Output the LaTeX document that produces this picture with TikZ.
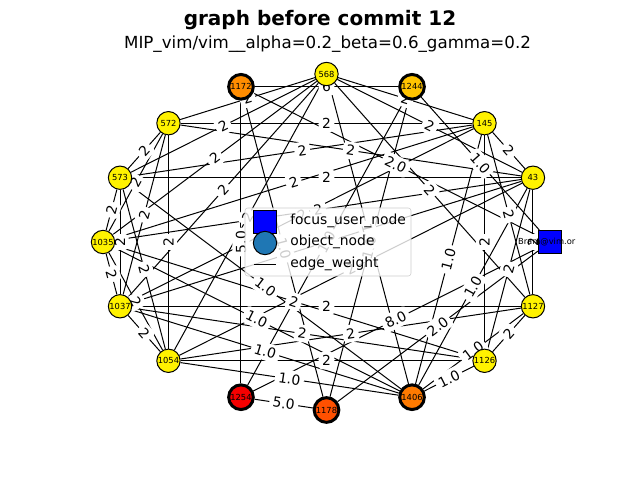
\documentclass[tikz,border=0pt]{standalone}
\usepackage{fontspec}
\setmainfont{DejaVu Sans}
\pgfdeclarelayer{edgelayer}
\pgfdeclarelayer{labellayer}
\pgfdeclarelayer{legendlayer}
\pgfsetlayers{edgelayer,labellayer,main,legendlayer}
\definecolor{mplblue}{HTML}{1F77B4}
\definecolor{c1172}{HTML}{FF8C00}
\definecolor{c1244}{HTML}{FFC400}
\definecolor{c1254}{HTML}{F50000}
\definecolor{c1178}{HTML}{FF5000}
\definecolor{c1406}{HTML}{FF7A00}
\newcommand\myedge[3]{%
 \begin{pgfonlayer}{edgelayer}\draw[edgeline] (#1) -- (#2);\end{pgfonlayer}%
 \begin{pgfonlayer}{labellayer}\path (#1) -- node[lbl]{#3} (#2);\end{pgfonlayer}}
\newcommand\px[1]{({326.5+223.5*cos(#1)},{238+168*sin(#1)})}
\begin{document}
\begin{tikzpicture}[x=0.75pt,y=0.75pt,
 usr/.style={circle,draw=black,line width=0.75pt,fill=yellow,minimum size=17.5pt,inner sep=0pt,font=\fontsize{6.25}{7}\selectfont},
 obj/.style={circle,draw=black,line width=2.25pt,minimum size=18.5pt,inner sep=0pt,font=\fontsize{6.25}{7}\selectfont},
 focus/.style={rectangle,draw=black,line width=0.6pt,fill=blue,minimum size=17.5pt,inner sep=0pt},
 lbl/.style={fill=white,inner sep=2.6pt,rounded corners=2.5pt,font=\fontsize{10.4}{12}\selectfont,sloped},
 edgeline/.style={draw=black,line width=0.75pt},
 legfont/.style={font=\fontsize{10.4}{12}\selectfont,anchor=west,inner sep=0pt}
]
\useasboundingbox (0,0) rectangle (640,480);

% nodes on circular layout
\node[focus] (bram) at \px{0} {};
\node[usr] (n43) at \px{22.5} {43};
\node[usr] (n145) at \px{45} {145};
\node[obj,fill=c1244] (n1244) at \px{67.5} {1244};
\node[usr] (n568) at \px{90} {568};
\node[obj,fill=c1172] (n1172) at \px{112.5} {1172};
\node[usr] (n572) at \px{135} {572};
\node[usr] (n573) at \px{157.5} {573};
\node[usr] (n1035) at \px{180} {1035};
\node[usr] (n1037) at \px{202.5} {1037};
\node[usr] (n1054) at \px{225} {1054};
\node[obj,fill=c1254] (n1254) at \px{247.5} {1254};
\node[obj,fill=c1178] (n1178) at \px{270} {1178};
\node[obj,fill=c1406] (n1406) at \px{292.5} {1406};
\node[usr] (n1126) at \px{315} {1126};
\node[usr] (n1127) at \px{337.5} {1127};
\node[font=\fontsize{6.25}{7}\selectfont,inner sep=0pt] (bramtxt) at ([xshift=-2.5pt]bram.center) {Bram@vim.or};

% user-user edges
\myedge{n573}{n568}{2}
\myedge{n572}{n145}{2}
\myedge{n568}{n43}{2}
\myedge{n568}{n1035}{2}
\myedge{n573}{n145}{2}
\myedge{n572}{n43}{2}
\myedge{n568}{n1127}{2}
\myedge{n145}{n43}{2}
\myedge{n573}{n572}{2}
\myedge{n1035}{n145}{2}
\myedge{n568}{n1037}{2}
\myedge{n572}{n1035}{2}
\myedge{n573}{n43}{2}
\myedge{n573}{n1035}{2}
\myedge{n1054}{n572}{2}
\myedge{n1037}{n573}{2}
\myedge{n572}{n1037}{2}
\myedge{n573}{n1054}{2}
\myedge{n1035}{n1037}{2}
\myedge{n1035}{n1054}{2}
\myedge{n1037}{n1054}{2}
\myedge{n1054}{n1127}{2}
\myedge{n1037}{n1126}{2}
\myedge{n1037}{n1127}{2}
\myedge{n1054}{n1126}{2}
\myedge{n1035}{n1126}{2}
\myedge{n1126}{n1127}{2}
\myedge{n1126}{n145}{2}
\myedge{n145}{n1127}{2}
\myedge{n43}{n1126}{2}
\myedge{n1035}{n43}{2}
\myedge{n572}{n568}{2}
\myedge{n568}{n145}{2}
\myedge{n1127}{n43}{2}
\myedge{n145}{n1037}{2}
\myedge{n43}{n1037}{2}
\myedge{n43}{n1054}{2}
\myedge{n568}{n1054}{2}

% object edges
\myedge{n1172}{bram}{2.0}
\myedge{n1244}{bram}{1.0}
\myedge{n1254}{n1172}{5.0}
\myedge{n573}{n1406}{1.0}
\myedge{n1035}{n1406}{1.0}
\myedge{n1037}{n1406}{1.0}
\myedge{n1054}{n1406}{1.0}
\myedge{n1254}{n1178}{5.0}
\myedge{n1406}{n1126}{1.0}
\myedge{n1406}{n1127}{1.0}
\myedge{n1178}{bram}{2.0}
\myedge{n1254}{bram}{8.0}
\myedge{n145}{n1406}{1.0}
\myedge{n43}{n1406}{1.0}
\myedge{n1172}{n1244}{6}
\myedge{n1172}{n1178}{1.0}
\myedge{n1244}{n1254}{1.0}
\myedge{n1244}{n1178}{1.0}
\myedge{n568}{n1406}{1.0}

% titles
\node[font=\bfseries\fontsize{15}{18}\selectfont] (title) at (320,459.5) {graph before commit 12};
\node[font=\fontsize{12.5}{15}\selectfont] (subtitle) at (327.5,436) {MIP\_vim/vim\_\_alpha=0.2\_beta=0.6\_gamma=0.2};

% legend
\begin{pgfonlayer}{legendlayer}
\node[draw=black!20,fill=white,fill opacity=0.8,rounded corners=2pt,minimum width=124.5pt,minimum height=51pt,inner sep=0pt] (legend) at (328,238) {};
\node[focus] (lgsq) at (265,258) {};
\node[circle,draw=black,line width=0.75pt,fill=mplblue,minimum size=17.5pt,inner sep=0pt] (lgci) at (265,237) {};
\coordinate (lgl1) at (254,216);
\coordinate (lgl2) at (276,216);
\draw[edgeline] (lgl1) -- (lgl2);
\node[legfont] (lgt1) at (290,259) {focus\_user\_node};
\node[legfont] (lgt2) at (290,238) {object\_node};
\node[legfont] (lgt3) at (290,216) {edge\_weight};
\end{pgfonlayer}
\end{tikzpicture}
\end{document}
